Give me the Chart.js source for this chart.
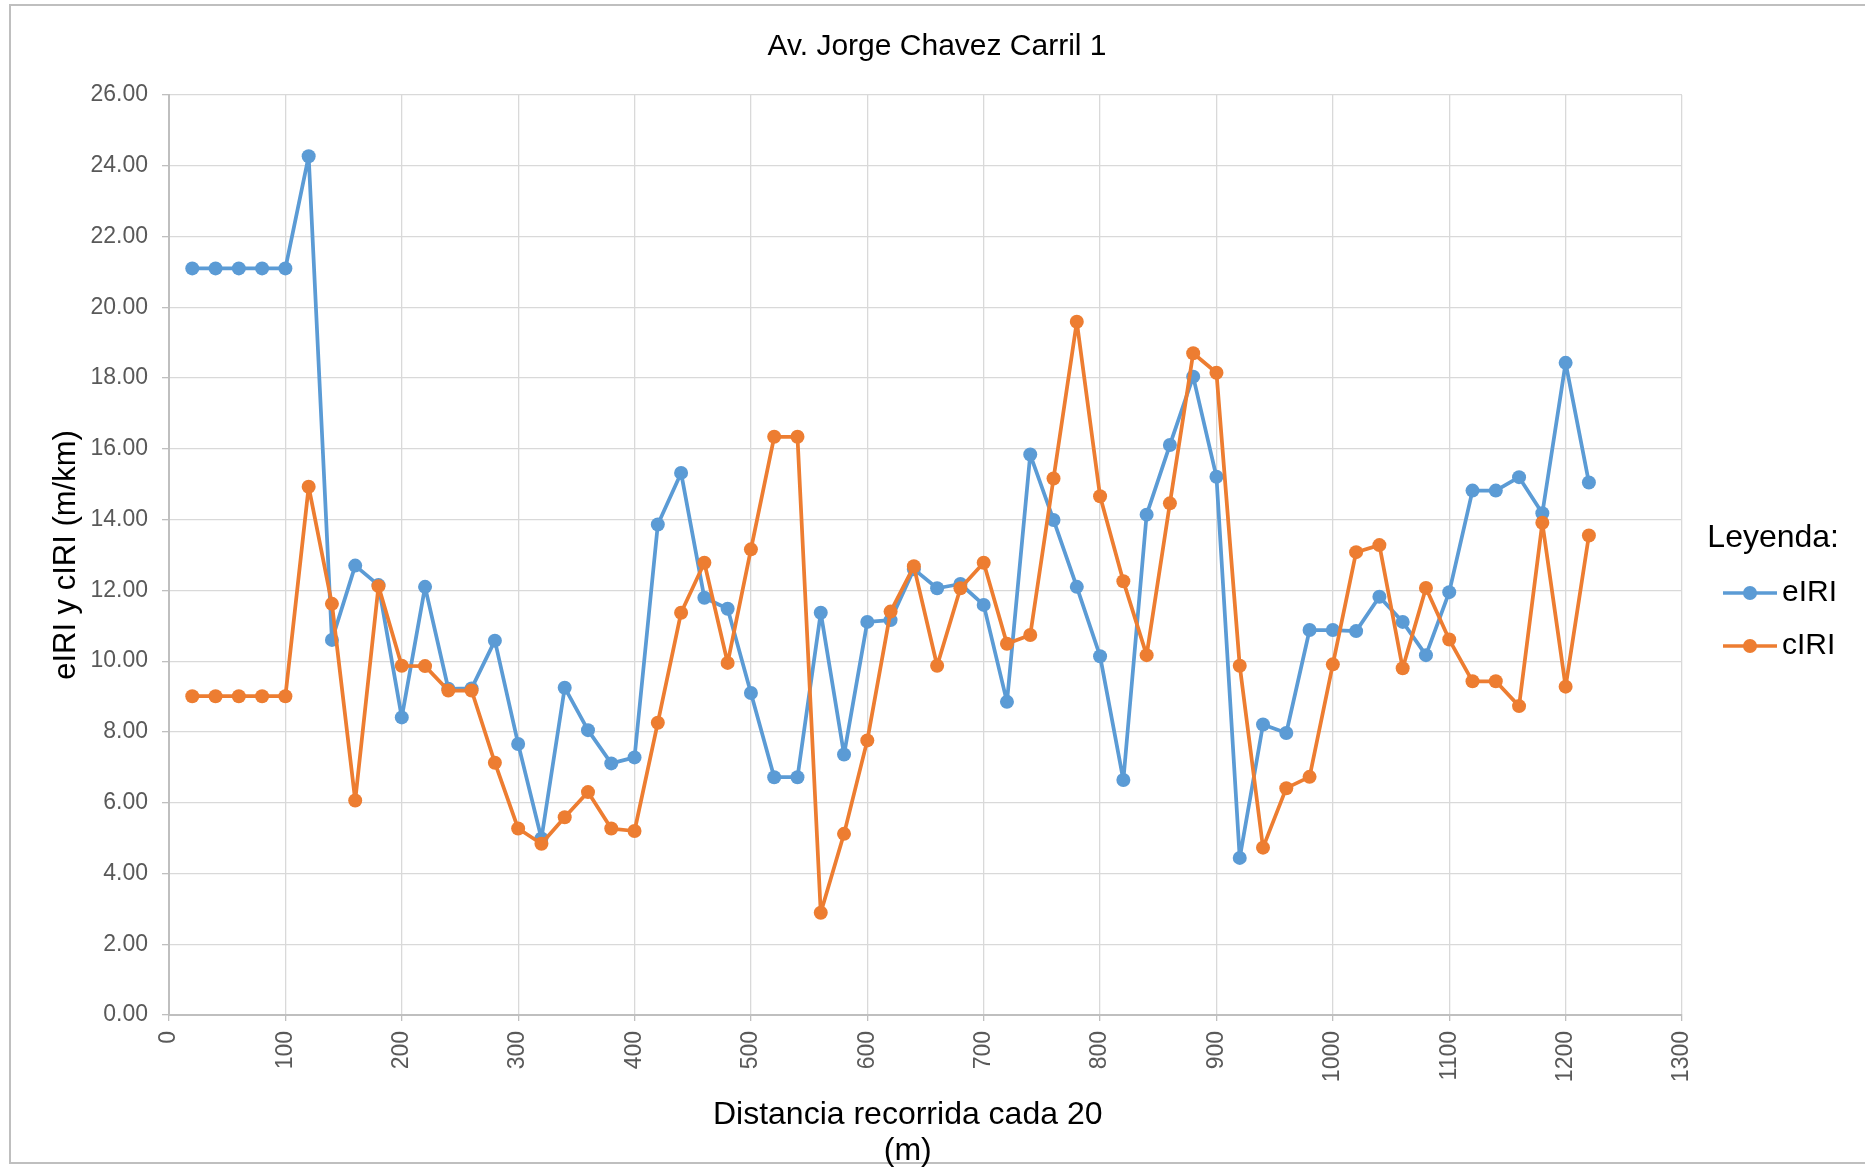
<!DOCTYPE html>
<html>
<head>
<meta charset="utf-8">
<script src="https://cdn.jsdelivr.net/npm/chart.js@4.4.0/dist/chart.umd.min.js"></script>
<style>
  html, body { margin: 0; padding: 0; background: #fff; overflow: hidden; }
  #frame {
    position: absolute; left: 9px; top: 4px;
    width: 1880px; height: 1156px;
    border: 2px solid #bfbfbf;
  }
  #wrap { position: absolute; left: 0; top: 0; width: 1865px; height: 1172px; }
</style>
</head>
<body>
<div id="frame"></div>
<div id="wrap"><canvas id="chart1" width="1865" height="1172"></canvas></div>
<script>
// distancia recorrida (m)
const distancias = [
  20, 40, 60, 80, 100, 120, 140, 160, 180, 200,
  220, 240, 260, 280, 300, 320, 340, 360, 380, 400,
  420, 440, 460, 480, 500, 520, 540, 560, 580, 600,
  620, 640, 660, 680, 700, 720, 740, 760, 780, 800,
  820, 840, 860, 880, 900, 920, 940, 960, 980, 1000,
  1020, 1040, 1060, 1080, 1100, 1120, 1140, 1160, 1180, 1200,
  1220
];

const eIRI = [
  21.1, 21.1, 21.1, 21.1, 21.1, 24.27, 10.6, 12.7, 12.15, 8.41,
  12.1, 9.22, 9.23, 10.58, 7.66, 4.99, 9.25, 8.05, 7.11, 7.28,
  13.86, 15.32, 11.79, 11.48, 9.1, 6.72, 6.72, 11.37, 7.36, 11.11,
  11.16, 12.6, 12.06, 12.18, 11.59, 8.85, 15.84, 13.99, 12.1, 10.14,
  6.64, 14.14, 16.11, 18.04, 15.21, 4.44, 8.21, 7.97, 10.88, 10.88,
  10.85, 11.82, 11.11, 10.17, 11.95, 14.82, 14.82, 15.2, 14.18, 18.43,
  15.05
];

const cIRI = [
  9.01, 9.01, 9.01, 9.01, 9.01, 14.93, 11.62, 6.06, 12.12, 9.87,
  9.86, 9.17, 9.17, 7.13, 5.27, 4.84, 5.59, 6.3, 5.27, 5.2,
  8.26, 11.37, 12.78, 9.95, 13.16, 16.34, 16.34, 2.89, 5.12, 7.76,
  11.4, 12.68, 9.87, 12.06, 12.78, 10.49, 10.74, 15.16, 19.59, 14.66,
  12.26, 10.17, 14.46, 18.7, 18.15, 9.87, 4.73, 6.41, 6.73, 9.91,
  13.08, 13.28, 9.8, 12.07, 10.61, 9.43, 9.43, 8.73, 13.91, 9.28,
  13.55
];

const seriesNames = ["eIRI", "cIRI"];
const seriesColors = ["#5B9BD5", "#ED7D31"];

const FONT = "'Liberation Sans', Arial, sans-serif";

function toPoints(values) {
  return values.map(function (v, i) {
    return { x: distancias[i], y: v };
  });
}

// legend marker: line with dot, drawn on a small canvas
function legendIcon(color) {
  const c = document.createElement("canvas");
  c.width = 82;
  c.height = 18;
  const g = c.getContext("2d");
  g.strokeStyle = color;
  g.lineWidth = 3.5;
  g.beginPath();
  g.moveTo(28, 9);
  g.lineTo(82, 9);
  g.stroke();
  g.fillStyle = color;
  g.beginPath();
  g.arc(55, 9, 7, 0, Math.PI * 2);
  g.fill();
  return c;
}

function makeDataset(i, values, order) {
  return {
    label: seriesNames[i],
    data: toPoints(values),
    borderColor: seriesColors[i],
    backgroundColor: seriesColors[i],
    borderWidth: 3.75,
    borderJoinStyle: "round",
    pointRadius: 7,
    pointBorderWidth: 0,
    pointBackgroundColor: seriesColors[i],
    tension: 0,
    order: order,
  };
}

const ctx = document.getElementById("chart1").getContext("2d");
const chart1 = new Chart(ctx, {
  type: "line",
  data: {
    // cIRI drawn on top of eIRI
    datasets: [makeDataset(0, eIRI, 1), makeDataset(1, cIRI, 0)],
  },
  options: {
    responsive: false,
    animation: false,
    devicePixelRatio: 1,
    layout: {
      padding: { left: 35, right: 26, top: 10, bottom: 0 },
    },
    plugins: {
      tooltip: { enabled: false },
      title: {
        display: true,
        text: "Av. Jorge Chavez Carril 1",
        color: "#000",
        font: { family: FONT, size: 30, weight: "normal" },
        padding: { top: 19, bottom: 30 },
      },
      legend: {
        position: "right",
        maxWidth: 157,
        title: {
          display: true,
          text: "Leyenda:",
          position: "end",
          color: "#000",
          font: { family: FONT, size: 32, lineHeight: 1 },
          padding: { top: 24, bottom: 1 },
        },
        labels: {
          usePointStyle: true,
          pointStyleWidth: 62,
          padding: 23,
          color: "#000",
          font: { family: FONT, size: 30 },
          sort: function (a, b) {
            return a.datasetIndex - b.datasetIndex;
          },
          generateLabels: function (chart) {
            const items = Chart.defaults.plugins.legend.labels.generateLabels(chart);
            items.forEach(function (it) {
              it.pointStyle = legendIcon(seriesColors[it.datasetIndex]);
            });
            return items;
          },
        },
      },
    },
    scales: {
      x: {
        type: "linear",
        min: 0,
        max: 1300,
        afterFit: function (s) {
          s.height = 157;
        },
        ticks: {
          stepSize: 100,
          autoSkip: false,
          minRotation: 90,
          maxRotation: 90,
          padding: 10,
          color: "#595959",
          font: { family: FONT, size: 23 },
          callback: function (value) {
            return String(value);
          },
        },
        grid: {
          color: "#d9d9d9",
          lineWidth: 1.3,
          tickLength: 6,
          tickColor: "#bfbfbf",
        },
        border: { color: "#bfbfbf", width: 2 },
        title: {
          display: true,
          // trailing spaces nudge the centred title a bit to the left, like the original
          text: ["Distancia recorrida cada 20    ", "(m)    "],
          color: "#000",
          font: { family: FONT, size: 32, lineHeight: 36 / 32 },
          padding: { top: 0, bottom: 3 },
        },
      },
      y: {
        min: 0,
        max: 26,
        afterFit: function (s) {
          s.width = 134;
        },
        ticks: {
          stepSize: 2,
          padding: 14,
          color: "#595959",
          font: { family: FONT, size: 23 },
          callback: function (value) {
            return value.toFixed(2);
          },
        },
        grid: {
          color: "#d9d9d9",
          lineWidth: 1.3,
          tickLength: 7,
          tickColor: "#bfbfbf",
        },
        border: { color: "#bfbfbf", width: 2 },
        title: {
          display: true,
          text: "eIRI y cIRI (m/km)",
          color: "#000",
          font: { family: FONT, size: 31, lineHeight: 36 / 31 },
          padding: { top: 13, bottom: 0 },
        },
      },
    },
  },
});
</script>
</body>
</html>
